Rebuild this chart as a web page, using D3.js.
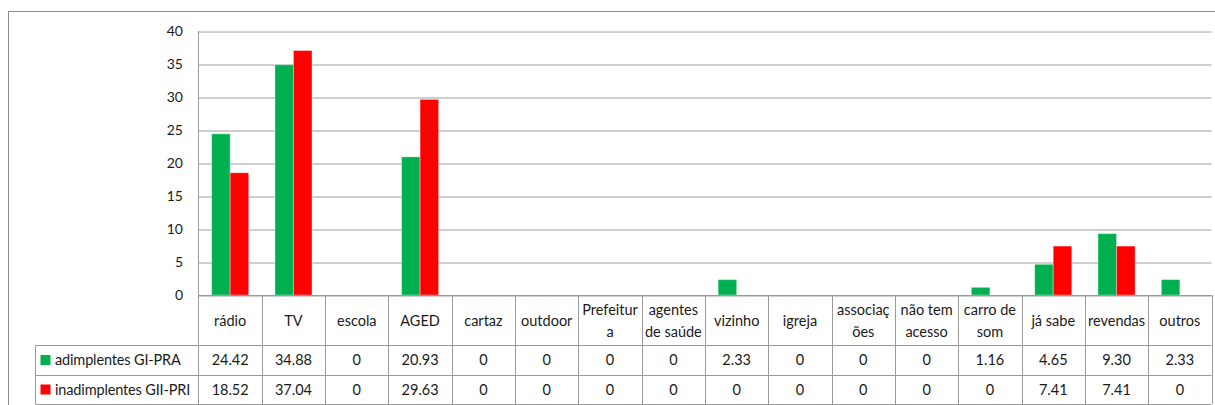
<!DOCTYPE html>
<html lang="pt">
  <head>
    <meta charset="utf-8">
    <title>adimplentes x inadimplentes</title>
    <style>
      body { margin: 0; background: #fff; }
      svg { display: block; font-family: Lato, "Open Sans", sans-serif; }
      .grid line { stroke: #9e9e9e; }
      .grid .domain { display: none; }
      .ylab text { font-size: 14px; fill: #1a1a1a; }
      .cell { font-size: 14.5px; fill: #1a1a1a; }
      .tbl { stroke: #9a9a9a; stroke-width: 1; fill: none; }
    </style>
  </head>
  <body>
    <svg class="chart"></svg>
    <script src="https://d3js.org/d3.v7.min.js"></script>
    <script>
      // data
      const categories = ["rádio", "TV", "escola", "AGED", "cartaz", "outdoor", "Prefeitur\na",
        "agentes\nde saúde", "vizinho", "igreja", "associaç\nões", "não tem\nacesso",
        "carro de\nsom", "já sabe", "revendas", "outros"];
      const seriesNames = ["adimplentes GI-PRA", "inadimplentes GII-PRI"];
      const adimplentes = [24.42, 34.88, 0, 20.93, 0, 0, 0, 0, 2.33, 0, 0, 0, 1.16, 4.65, 9.30, 2.33];
      const inadimplentes = [18.52, 37.04, 0, 29.63, 0, 0, 0, 0, 0, 0, 0, 0, 0, 7.41, 7.41, 0];
      const colors = ["#00b050", "#ff0000"];
      const yTicks = [0, 5, 10, 15, 20, 25, 30, 35, 40];

      const W = 1215, H = 405;
      const pLeft = 198.5, pRight = 1211.5, pTop = 31, pBottom = 295;
      const headerBottom = 345, row1Bottom = 375, row2Bottom = 404, legendLeft = 35.5;

      const svg = d3.select(".chart").attr("width", W).attr("height", H);

      // outer chart frame (runs off right/bottom edge)
      svg.append("rect").attr("x", 8.5).attr("y", 11.5)
        .attr("width", W + 10).attr("height", H + 10)
        .style("fill", "none").style("stroke", "#8c8c8c");

      const x = d3.scaleBand().domain(categories).range([pLeft, pRight]);
      const y = d3.scaleLinear().domain([0, 40]).range([pBottom, pTop]);
      const inner = d3.scaleBand().domain([0, 1]).range([0, x.bandwidth()]).paddingOuter(0.71);

      // gridlines
      svg.append("g").attr("class", "grid")
        .attr("transform", "translate(" + pLeft + ",0.5)")
        .call(d3.axisLeft(y).tickValues(yTicks).tickSize(-(pRight - pLeft)).tickFormat(""));

      // y labels
      svg.append("g").attr("class", "ylab")
        .selectAll("text").data(yTicks).enter().append("text")
        .attr("x", 183).attr("y", d => y(d) + 5)
        .attr("text-anchor", "end").text(d => d);

      // bars
      const series = [adimplentes, inadimplentes];
      series.forEach(function(vals, s) {
        svg.append("g").selectAll("rect")
          .data(vals).enter().append("rect")
          .attr("x", (d, i) => x(categories[i]) + inner(s))
          .attr("y", d => y(d))
          .attr("width", inner.bandwidth())
          .attr("height", d => pBottom - y(d))
          .style("fill", colors[s])
          .style("stroke", "rgba(255,255,255,0.35)")
          .style("stroke-width", 1);
      });

      // table / axis lines
      const tbl = svg.append("g").attr("class", "tbl");
      tbl.append("line").attr("x1", pLeft).attr("x2", pLeft).attr("y1", pTop).attr("y2", row2Bottom);
      tbl.append("line").attr("x1", pLeft).attr("x2", pRight).attr("y1", pBottom + 0.5).attr("y2", pBottom + 0.5);
      [headerBottom, row1Bottom, row2Bottom].forEach(function(yy) {
        tbl.append("line").attr("x1", legendLeft).attr("x2", pRight).attr("y1", yy + 0.5).attr("y2", yy + 0.5);
      });
      tbl.append("line").attr("x1", legendLeft).attr("x2", legendLeft).attr("y1", headerBottom).attr("y2", row2Bottom);
      categories.forEach(function(c) {
        const xx = Math.round(x(c) + x.bandwidth()) + 0.5;
        tbl.append("line").attr("x1", xx).attr("x2", xx).attr("y1", pBottom).attr("y2", row2Bottom);
      });

      // category labels
      svg.append("g").selectAll("text").data(categories).enter().append("text")
        .attr("class", "cell")
        .attr("text-anchor", "middle")
        .each(function(d) {
          const lines = d.split("\n");
          const cx = x(d) + x.bandwidth() / 2;
          const c0 = lines.length === 1 ? 321 : 309.5;
          d3.select(this).selectAll("tspan").data(lines).enter().append("tspan")
            .attr("x", cx).attr("y", (l, k) => c0 + k * 22 + 5).text(l => l);
        });

      // legend column + values
      const rowMid = [360, 389.5];
      const fmt = v => v === 0 ? "0" : v.toFixed(2);
      series.forEach(function(vals, s) {
        svg.append("rect").attr("x", 40.5).attr("y", rowMid[s] - 5)
          .attr("width", 10).attr("height", 10).style("fill", colors[s]);
        svg.append("text").attr("class", "cell").attr("x", 55).attr("y", rowMid[s] + 5)
          .style("letter-spacing", "-0.15px")
          .text(seriesNames[s]);
        svg.append("g").selectAll("text").data(vals).enter().append("text")
          .attr("class", "cell").attr("text-anchor", "middle")
          .attr("x", (d, i) => x(categories[i]) + x.bandwidth() / 2)
          .attr("y", rowMid[s] + 5)
          .text(fmt);
      });
    </script>
  </body>
</html>
